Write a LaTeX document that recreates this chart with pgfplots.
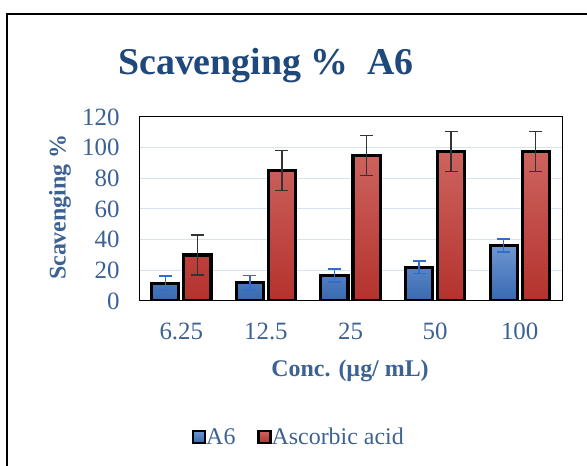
\documentclass[border=0pt]{standalone}
\usepackage{pgfplots}
\pgfplotsset{compat=1.18}
\usepackage{fontspec}
\setmainfont{Liberation Serif}
\definecolor{titleblue}{RGB}{31,73,125}
\definecolor{tickblue}{RGB}{60,98,148}
\definecolor{gridblue}{RGB}{214,227,243}
\definecolor{barblueT}{RGB}{110,150,210}
\definecolor{barblueB}{RGB}{55,105,175}
\definecolor{barredT}{RGB}{205,100,95}
\definecolor{barredB}{RGB}{180,50,45}
\definecolor{errblue}{RGB}{50,110,200}
\begin{document}
\begin{tikzpicture}[x=1bp,y=1bp]
\useasboundingbox (0,0) rectangle (587,466);
\fill[white] (0,0) rectangle (587,466);
\draw[line width=1.6bp] (7,-20) -- (7,452) -- (610,452);
\begin{axis}[
  at={(139bp,165bp)}, anchor=south west,
  scale only axis, width=423bp, height=184bp,
  xmin=-0.5, xmax=4.5, ymin=0, ymax=120,
  xtick={0,1,2,3,4}, xticklabels={6.25,12.5,25,50,100},
  ytick={0,20,...,120},
  ymajorgrids, grid style={gridblue, line width=1bp},
  axis line style={black, line width=1bp},
  major tick length=0pt,
  /pgf/number format/assume math mode=true,
  tick label style={font=\fontsize{25}{28}\selectfont, text=tickblue},
  xticklabel style={yshift=-18bp},
  yticklabel style={xshift=-16bp},
  every axis y label/.style={at={(rel axis cs:-0.187,0.51)}, rotate=90, anchor=center,
    font=\fontsize{24}{28}\selectfont\bfseries, text=tickblue},
  every axis x label/.style={at={(rel axis cs:0.499,-0.38)}, anchor=center,
    font=\fontsize{24}{28}\selectfont\bfseries, text=tickblue},
  ylabel={Scavenging \%},
  xlabel={Conc. (µg/ mL)},
  ybar, bar width=0.32,
  legend style={at={(rel axis cs:0.378,-0.739)}, anchor=center, draw=none, fill=none,
    legend columns=2, font=\fontsize{24}{28}\selectfont, text=tickblue,
    /tikz/every even column/.append style={column sep=20bp},
    /tikz/every odd column/.append style={column sep=-2bp}},
  legend image code/.code={\draw[#1, line width=2.2bp, draw=black] (0bp,-6bp) rectangle (12bp,6bp);},
]
\addplot[bar shift=-0.19, draw=black, line width=3.2bp, top color=barblueT, bottom color=barblueB,
  error bars/.cd, y dir=both, y explicit,
  error bar style={errblue, line width=1.4bp},
  error mark options={rotate=90, mark size=6.5bp, errblue, line width=1.4bp}]
coordinates {(0,11.5) +- (0,4.8) (1,12) +- (0,4.7) (2,16.7) +- (0,4.2) (3,22) +- (0,4.2) (4,36.2) +- (0,4.2)};
\addlegendentry{A6}
\addplot[bar shift=0.19, draw=black, line width=3.2bp, top color=barredT, bottom color=barredB,
  error bars/.cd, y dir=both, y explicit,
  error bar style={black!80, line width=1.4bp},
  error mark options={rotate=90, mark size=6.5bp, black!80, line width=1.4bp}]
coordinates {(0,30) +- (0,13) (1,85) +- (0,13) (2,95) +- (0,13) (3,97.5) +- (0,13) (4,97.5) +- (0,13)};
\addlegendentry{Ascorbic acid}
\end{axis}
\node[text=titleblue, font=\fontsize{38}{42}\selectfont\bfseries] at (266,400) {Scavenging \%\ \ A6};
\end{tikzpicture}
\end{document}
